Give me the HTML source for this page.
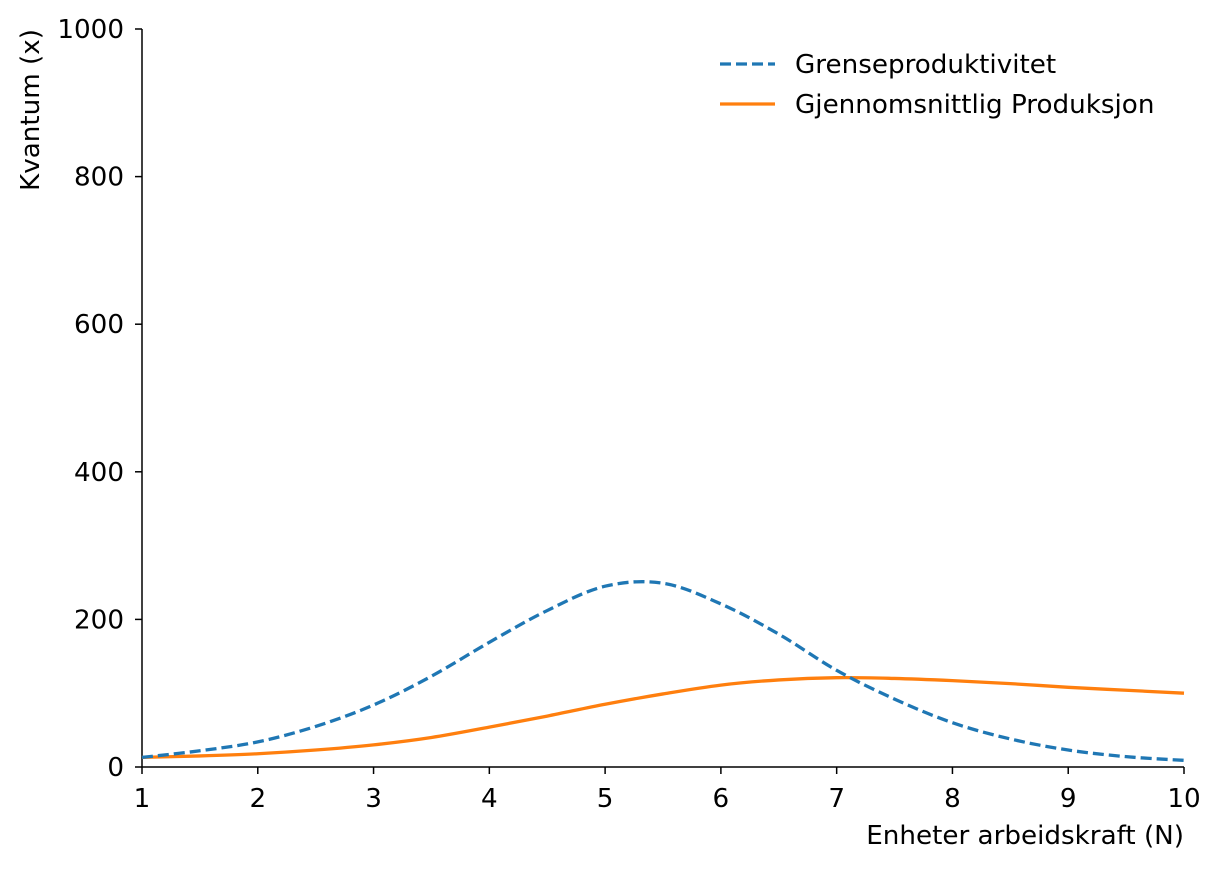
<!DOCTYPE html>
<html><head><meta charset="utf-8"><style>
body{margin:0;background:#fff}
svg text{font-family:"DejaVu Sans","Liberation Sans",sans-serif;font-size:26.2px;fill:#000}
</style></head><body>
<svg id="chart" width="1219" height="868" xmlns="http://www.w3.org/2000/svg">
<g id="axes"></g><g id="series"></g>
<g>
<line x1="720" y1="64" x2="775" y2="64" stroke="#1f77b4" stroke-width="3.3" stroke-dasharray="11,5"/>
<text x="795" y="73">Grenseproduktivitet</text>
<line x1="720" y1="104" x2="775" y2="104" stroke="#ff7f0e" stroke-width="3.3"/>
<text x="795" y="113">Gjennomsnittlig Produksjon</text>
</g>
</svg>
<script>
const xsA = [1,1.5,2,2.5,3,3.5,4,4.5,5,5.5,6,6.5,7,7.5,8,8.5,9,9.5,10];
const marginal = [13,22,34,55,84,123,169,212,245,249,221,180,131,92,60,38,23,14,9];
const xsB = [1,1.5,2,2.5,3,3.5,4,4.5,5,5.5,6,6.5,7,7.5,8,8.5,9,9.5,10];
const average = [13,15,18,23,30,40,54,69,85,99,111,118,121,120,117,113,108,104,100];
const xTicks = [1,2,3,4,5,6,7,8,9,10];
const yTicks = [0,200,400,600,800,1000];
const NS="http://www.w3.org/2000/svg";
const X=v=>142+(v-1)*(1184-142)/9, Y=v=>767-v*(767-29)/1000;
const ax=document.getElementById('axes'), se=document.getElementById('series');
function mk(t,a,p){const e=document.createElementNS(NS,t);for(const k in a)e.setAttribute(k,a[k]);p.appendChild(e);return e;}
let l=mk('line',{x1:142,y1:29,x2:142,y2:767,stroke:'#000','stroke-width':1.5},ax);


l=mk('line',{x1:142,y1:767,x2:1184,y2:767,stroke:'#000','stroke-width':1.5},ax);


xTicks.forEach(v=>{mk('line',{x1:X(v),x2:X(v),y1:767,y2:774,stroke:'#000','stroke-width':1.5},ax);
 const t=mk('text',{x:X(v),y:807,'text-anchor':'middle'},ax);t.textContent=v;
 
 });
yTicks.forEach(v=>{mk('line',{x1:135,x2:142,y1:Y(v),y2:Y(v),stroke:'#000','stroke-width':1.5},ax);
 const t=mk('text',{x:124,y:Y(v)+9,'text-anchor':'end'},ax);t.textContent=v;
 
 });
let t=mk('text',{x:1184,y:844,'text-anchor':'end'},ax);t.textContent='Enheter arbeidskraft (N)';


t=mk('text',{x:39,y:29,'text-anchor':'end',transform:'rotate(-90 39 29)'},ax);t.textContent='Kvantum (x)';


function path(xs,ys){const p=xs.map((x,i)=>[X(x),Y(ys[i])]);let d='M'+p[0];
 for(let i=0;i<p.length-1;i++){const p0=p[i-1]||p[i],p1=p[i],p2=p[i+1],p3=p[i+2]||p2;
  d+=` C${p1[0]+(p2[0]-p0[0])/6},${p1[1]+(p2[1]-p0[1])/6} ${p2[0]-(p3[0]-p1[0])/6},${p2[1]-(p3[1]-p1[1])/6} ${p2[0]},${p2[1]}`;}
 return d;}
let s=mk('path',{d:path(xsB,average),fill:'none',stroke:'#ff7f0e','stroke-width':3.3},se);


s=mk('path',{d:path(xsA,marginal),fill:'none',stroke:'#1f77b4','stroke-width':3.3,'stroke-dasharray':'11,5'},se);


</script>
</body></html>
